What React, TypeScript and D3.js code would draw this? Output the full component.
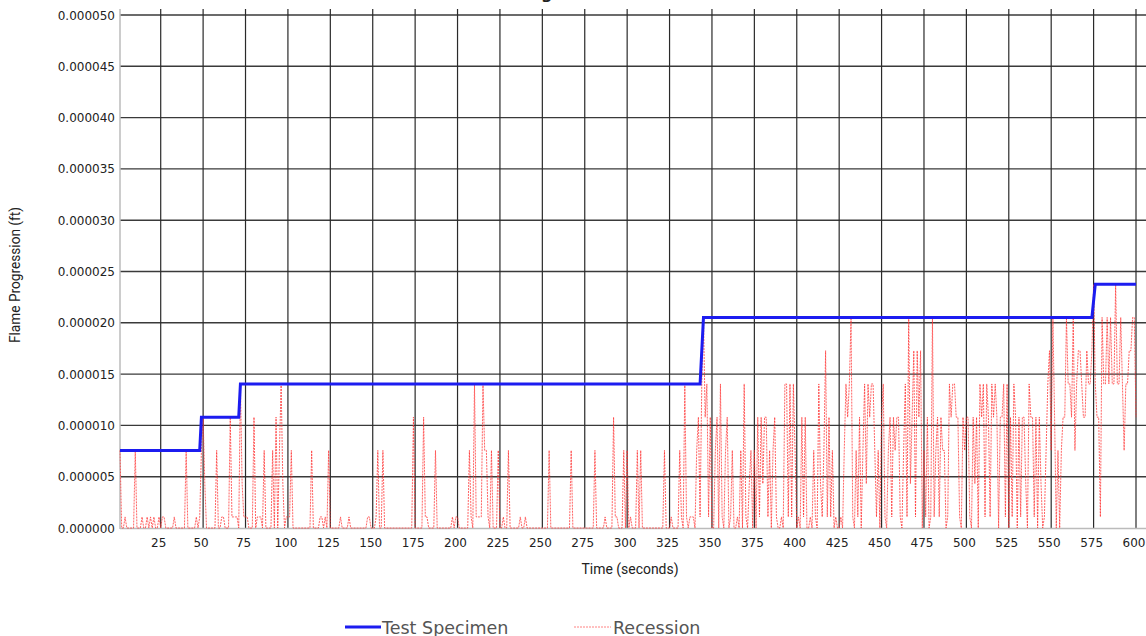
import React, { useEffect, useRef } from "react";
import * as d3 from "d3";

// quantised levels seen in the picture (ft)
const levels = [0, 1.08e-6, 4.32e-6, 7.56e-6, 10.8e-6, 14.04e-6, 17.28e-6, 20.52e-6, 23.76e-6];

// test specimen: change points of the stepped line
const specimenTimes = [1, 48, 49, 71, 72, 343, 345, 574, 576, 600];
const specimenValues = [7.56e-6, 7.56e-6, 10.8e-6, 10.8e-6, 14.04e-6, 14.04e-6, 20.52e-6, 20.52e-6, 23.76e-6, 23.76e-6];

// recession: level index for each second, 1..600 (25 per row)
const recessionLevels = [
  3,0,0,1,0,0,0,0,0,3,0,0,0,1,0,0,1,0,1,0,1,0,0,1,0,
  1,1,0,0,0,0,0,1,0,0,0,0,0,0,3,0,0,0,0,0,1,0,1,3,4,
  2,0,0,0,0,0,0,3,0,0,1,1,0,0,0,4,1,1,1,1,0,5,2,1,1,
  1,0,0,0,4,0,1,1,1,0,3,0,0,0,0,3,0,4,0,3,5,2,0,1,1,
  1,3,0,0,0,0,0,0,0,0,0,0,0,3,0,0,0,0,1,1,0,1,0,3,0,
  0,0,0,0,0,1,0,0,0,0,1,0,0,0,0,0,0,0,0,0,0,1,1,0,0,
  0,1,3,0,0,3,0,0,0,0,0,0,0,0,0,0,0,0,0,0,0,0,0,4,0,
  0,0,0,0,4,1,1,0,0,0,0,3,0,0,0,0,0,0,0,0,0,1,0,1,1,
  0,0,0,0,0,0,3,1,0,5,1,1,1,1,5,3,3,1,0,3,0,0,0,3,0,
  0,1,0,0,3,0,0,0,0,0,0,1,0,0,1,0,0,0,0,0,0,0,0,0,0,
  0,0,0,3,0,0,0,0,0,0,0,0,0,0,0,0,3,0,0,0,0,0,0,0,0,
  0,0,0,0,0,3,0,0,0,0,0,1,0,0,0,0,4,1,1,0,0,0,3,0,3,
  0,1,0,0,0,3,0,3,0,0,0,0,0,0,0,0,0,0,0,0,0,3,0,0,0,
  1,0,0,0,0,3,1,0,5,1,0,1,1,1,0,3,4,1,5,7,4,5,1,4,0,
  0,3,4,0,5,1,0,3,4,0,1,3,0,0,1,0,3,0,5,1,0,2,3,0,3,
  0,4,1,4,2,4,4,1,3,0,3,4,1,0,0,1,0,5,5,1,5,1,5,3,0,
  1,0,4,1,4,0,0,1,0,3,1,0,5,2,1,3,6,1,4,1,3,0,1,0,0,
  1,0,3,5,4,5,7,1,0,3,1,4,0,3,5,2,5,4,5,5,3,1,3,0,4,
  5,1,0,3,4,1,4,3,4,4,1,0,3,5,1,7,2,4,6,1,6,4,6,0,3,
  1,4,0,1,7,1,3,4,1,4,3,3,0,1,5,4,5,5,4,4,1,0,4,3,4,
  4,1,0,4,2,4,0,5,4,5,1,5,4,1,5,4,5,4,0,4,4,5,1,5,0,
  4,1,5,4,0,4,1,4,4,2,0,5,4,4,1,4,0,4,2,0,1,3,5,6,3,
  7,4,0,3,0,3,4,4,7,5,5,4,7,3,5,6,6,5,4,4,6,5,5,6,8,
  5,4,4,1,7,5,5,7,5,7,5,5,8,5,5,7,5,3,5,5,6,6,7,7,4,
];

const xTicks = d3.range(25, 601, 25);
const yTicks = d3.range(0, 11).map((i) => i * 5e-6);

const width = 1146;
const height = 636;

function Chart() {
  const svgRef = useRef(null);

  useEffect(() => {
    const svg = d3.select(svgRef.current);
    svg.selectAll("*").remove();

    const x = d3.scaleLinear().domain([1, 600]).range([120, 1136]);
    const y = d3.scaleLinear().domain([0, 5e-5]).range([528, 15]);

    const tickFont = "'DejaVu Sans', Verdana, sans-serif";
    const narrowFont = "Roboto, 'Liberation Sans', sans-serif";

    // title, mostly above the top edge as in the source
    svg
      .append("text")
      .attr("x", 450)
      .attr("y", -1)
      .style("font-family", tickFont)
      .style("font-size", "16px")
      .style("font-weight", "bold")
      .attr("fill", "#222")
      .text("Flame Progression");

    // horizontal grid
    svg
      .append("g")
      .selectAll("line")
      .data(yTicks.slice(1))
      .join("line")
      .attr("x1", 120)
      .attr("x2", width)
      .attr("y1", (d) => y(d))
      .attr("y2", (d) => y(d))
      .attr("stroke", "#3a3a3a")
      .attr("stroke-width", 1.4);

    // vertical grid
    svg
      .append("g")
      .selectAll("line")
      .data(xTicks)
      .join("line")
      .attr("x1", (d) => x(d))
      .attr("x2", (d) => x(d))
      .attr("y1", 9)
      .attr("y2", 528)
      .attr("stroke", "#2a2a2a")
      .attr("stroke-width", 1.2);

    // axis lines
    svg
      .append("line")
      .attr("x1", 120)
      .attr("x2", 120)
      .attr("y1", 9)
      .attr("y2", 529)
      .attr("stroke", "#bbb")
      .attr("stroke-width", 1.5);
    svg
      .append("line")
      .attr("x1", 120)
      .attr("x2", width)
      .attr("y1", 528.5)
      .attr("y2", 528.5)
      .attr("stroke", "#bbb")
      .attr("stroke-width", 1.5);

    // y tick labels
    svg
      .append("g")
      .selectAll("text")
      .data(yTicks)
      .join("text")
      .attr("x", 115)
      .attr("y", (d) => y(d) + 4.5)
      .attr("text-anchor", "end")
      .style("font-family", tickFont)
      .style("font-size", "12px")
      .attr("fill", "#222")
      .text((d) => d.toFixed(6));

    // x tick labels
    svg
      .append("g")
      .selectAll("text")
      .data(xTicks)
      .join("text")
      .attr("x", (d) => x(d) - 2)
      .attr("y", 547)
      .attr("text-anchor", "middle")
      .style("font-family", tickFont)
      .style("font-size", "12px")
      .attr("fill", "#222")
      .text((d) => d);

    // axis titles
    svg
      .append("text")
      .attr("x", 630)
      .attr("y", 574)
      .attr("text-anchor", "middle")
      .attr("textLength", 97)
      .attr("lengthAdjust", "spacingAndGlyphs")
      .style("font-family", narrowFont)
      .style("font-size", "14px")
      .attr("fill", "#222")
      .text("Time (seconds)");
    svg
      .append("text")
      .attr("transform", "translate(20, 275) rotate(-90)")
      .attr("text-anchor", "middle")
      .attr("textLength", 136)
      .attr("lengthAdjust", "spacingAndGlyphs")
      .style("font-family", narrowFont)
      .style("font-size", "14px")
      .attr("fill", "#222")
      .text("Flame Progression (ft)");

    // recession line
    const recession = recessionLevels.map((lv, i) => ({ t: i + 1, v: levels[lv] }));
    const line = d3
      .line()
      .x((d) => x(d.t))
      .y((d) => y(d.v));

    svg
      .append("path")
      .datum(recession)
      .attr("d", line)
      .attr("fill", "none")
      .attr("stroke", "#ff3030")
      .attr("stroke-opacity", 0.75)
      .attr("stroke-width", 1)
      .attr("stroke-dasharray", "2,1");

    // test specimen line
    const specimen = specimenTimes.map((t, i) => ({ t, v: specimenValues[i] }));
    svg
      .append("path")
      .datum(specimen)
      .attr("d", line)
      .attr("fill", "none")
      .attr("stroke", "#1c1cf0")
      .attr("stroke-width", 3);

    // legend
    const legend = svg.append("g").attr("transform", "translate(0, 627)");
    legend
      .append("line")
      .attr("x1", 345)
      .attr("x2", 381)
      .attr("stroke", "#1c1cf0")
      .attr("stroke-width", 3);
    legend
      .append("text")
      .attr("x", 382)
      .attr("y", 6.5)
      .style("font-family", tickFont)
      .style("font-size", "17.5px")
      .attr("fill", "#555")
      .text("Test Specimen");
    legend
      .append("line")
      .attr("x1", 574)
      .attr("x2", 611)
      .attr("stroke", "#ff3030")
      .attr("stroke-opacity", 0.6)
      .attr("stroke-width", 1)
      .attr("stroke-dasharray", "2,1");
    legend
      .append("text")
      .attr("x", 613)
      .attr("y", 6.5)
      .style("font-family", tickFont)
      .style("font-size", "17.5px")
      .attr("fill", "#555")
      .text("Recession");
  }, []);

  return (
    <svg
      ref={svgRef}
      width={width}
      height={height}
      style={{ position: "absolute", left: 0, top: 0, display: "block", background: "#fff" }}
    ></svg>
  );
}

export default function App() {
  return <Chart />;
}
